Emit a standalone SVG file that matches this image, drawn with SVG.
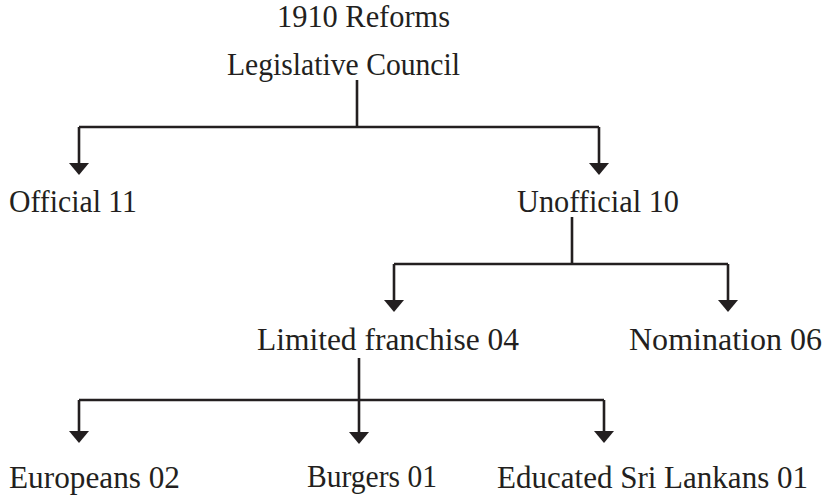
<svg xmlns="http://www.w3.org/2000/svg" width="826" height="497" viewBox="0 0 826 497">
  <style>
    .lbl { font-family: "Liberation Serif", "Times New Roman", serif; font-size: 31px; fill: #231f20; }
    .con { fill: none; stroke: #231f20; stroke-width: 2.6; }
  </style>
  <defs>
    <marker id="arr" viewBox="0 0 12 20" refX="6" refY="10" markerWidth="12" markerHeight="20" markerUnits="userSpaceOnUse" orient="auto">
      <path d="M0,0 L12,10 L0,20 z" fill="#231f20"/>
    </marker>
  </defs>
  <rect width="826" height="497" fill="#ffffff"/>

  <g id="connectors">
    <path class="con" d="M357,80 V127"/>
    <path class="con" d="M79,127 H599"/>
    <path class="con" d="M79,127 V169" marker-end="url(#arr)"/>
    <path class="con" d="M599,127 V169" marker-end="url(#arr)"/>

    <path class="con" d="M572,217 V264"/>
    <path class="con" d="M394,264 H728"/>
    <path class="con" d="M394,264 V306" marker-end="url(#arr)"/>
    <path class="con" d="M728,264 V306" marker-end="url(#arr)"/>

    <path class="con" d="M359,358 V438" marker-end="url(#arr)"/>
    <path class="con" d="M79,400 H604"/>
    <path class="con" d="M79,400 V437" marker-end="url(#arr)"/>
    <path class="con" d="M604,400 V437" marker-end="url(#arr)"/>
  </g>

  <g id="title"><text class="lbl" x="277" y="27" textLength="173" lengthAdjust="spacingAndGlyphs">1910 Reforms</text></g>
  <g id="legislative-council"><text class="lbl" x="227" y="75" textLength="233" lengthAdjust="spacingAndGlyphs">Legislative Council</text></g>
  <g id="official"><text class="lbl" x="9" y="212" textLength="128" lengthAdjust="spacingAndGlyphs">Official 11</text></g>
  <g id="unofficial"><text class="lbl" x="517" y="212" textLength="162" lengthAdjust="spacingAndGlyphs">Unofficial 10</text></g>
  <g id="limited-franchise"><text class="lbl" x="257" y="350" textLength="262" lengthAdjust="spacingAndGlyphs">Limited franchise 04</text></g>
  <g id="nomination"><text class="lbl" x="629" y="350" textLength="193" lengthAdjust="spacingAndGlyphs">Nomination 06</text></g>
  <g id="europeans"><text class="lbl" x="9" y="488" textLength="171" lengthAdjust="spacingAndGlyphs">Europeans 02</text></g>
  <g id="burgers"><text class="lbl" x="307" y="487" textLength="130" lengthAdjust="spacingAndGlyphs">Burgers 01</text></g>
  <g id="educated"><text class="lbl" x="497" y="488" textLength="311" lengthAdjust="spacingAndGlyphs">Educated Sri Lankans 01</text></g>
</svg>
